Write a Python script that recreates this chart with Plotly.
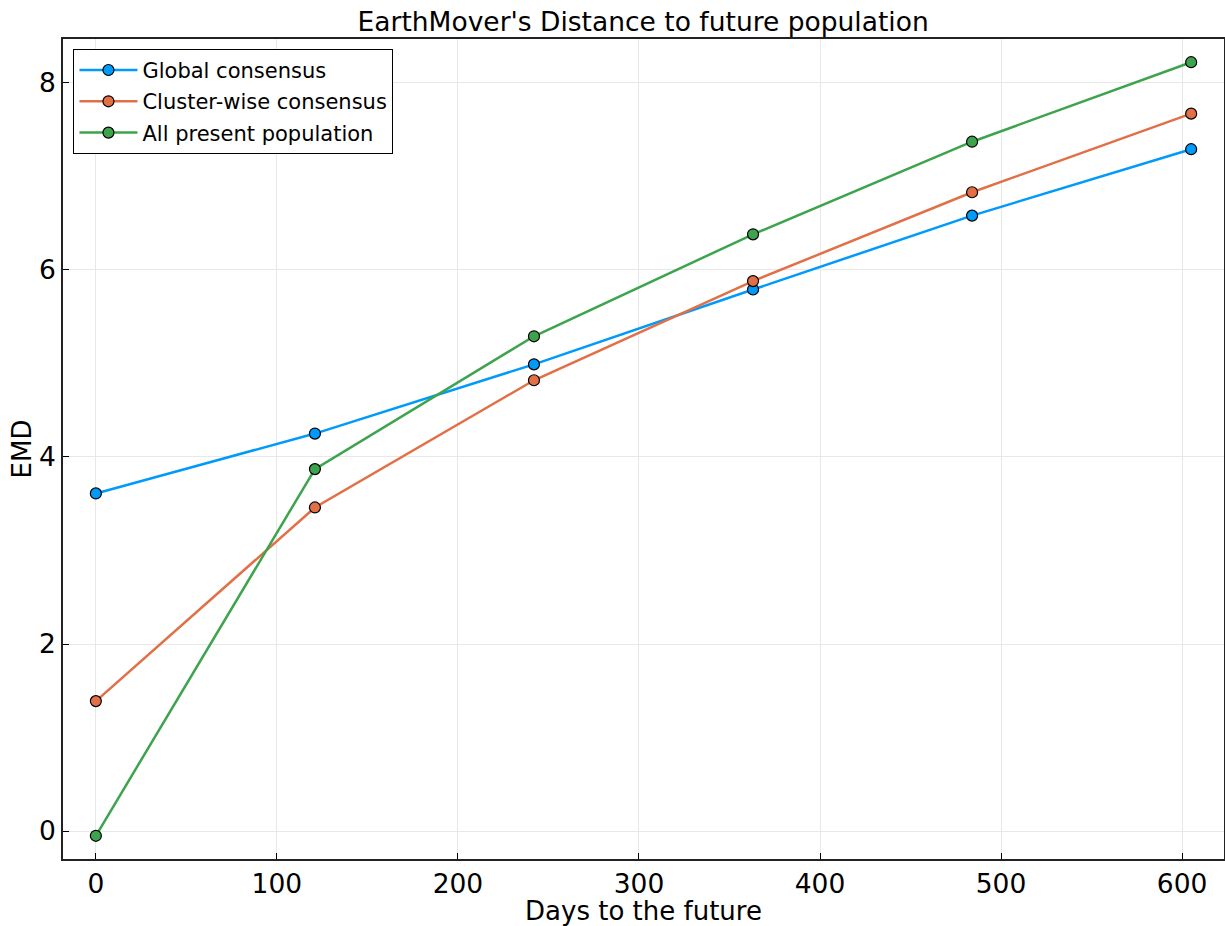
import plotly.graph_objects as go

# Forecast horizons (days) and EMD values per method
days = [0, 121, 242, 363, 484, 605]
global_consensus = [3.61, 4.25, 4.99, 5.79, 6.58, 7.29]
cluster_consensus = [1.39, 3.46, 4.82, 5.88, 6.83, 7.67]
all_present = [-0.05, 3.87, 5.29, 6.38, 7.37, 8.22]

series_names = ["Global consensus", "Cluster-wise consensus", "All present population"]
series_values = [global_consensus, cluster_consensus, all_present]
series_colors = ["#009AFA", "#E26F46", "#3DA44D"]

FONT = "DejaVu Sans"

fig = go.Figure()
for i, (name, vals, col) in enumerate(zip(series_names, series_values, series_colors)):
    fig.add_trace(go.Scatter(
        x=days, y=vals, name=name, mode="lines+markers",
        legendgroup=f"g{i}",
        line=dict(color=col, width=2.5),
        marker=dict(color=col, size=11, line=dict(color="black", width=1.2)),
    ))

# 3% padding around data extents on both axes
all_y = global_consensus + cluster_consensus + all_present
xpad = 0.03 * (max(days) - min(days))
ypad = 0.03 * (max(all_y) - min(all_y))

fig.update_layout(
    width=1225, height=926,
    margin=dict(l=63, r=1, t=39, b=67),
    paper_bgcolor="white", plot_bgcolor="white",
    font=dict(family=FONT, color="black"),
    title=dict(text="EarthMover's Distance to future population",
               x=0.525, xanchor="center", y=0.976, yanchor="middle",
               font=dict(size=26.5, family=FONT)),
    showlegend=True,
    legend=dict(x=0.009, y=0.988, xanchor="left", yanchor="top",
                bgcolor="white", bordercolor="black", borderwidth=1,
                font=dict(size=21, family=FONT), itemwidth=58,
                tracegroupgap=1),
    xaxis=dict(
        range=[min(days) - xpad, max(days) + xpad],
        tickvals=[0, 100, 200, 300, 400, 500, 600],
        ticks="inside", ticklen=6, tickcolor="black",
        tickfont=dict(size=26.5, family=FONT),
        showgrid=True, gridcolor="#e8e8e8", gridwidth=1,
        showline=True, linecolor="#222222", linewidth=1.5, mirror=True,
        zeroline=False, automargin=False,
        title=dict(text="Days to the future", font=dict(size=26, family=FONT), standoff=10),
    ),
    yaxis=dict(
        range=[min(all_y) - ypad, max(all_y) + ypad],
        tickvals=[0, 2, 4, 6, 8],
        ticks="inside", ticklen=6, tickcolor="black",
        tickfont=dict(size=26.5, family=FONT),
        showgrid=True, gridcolor="#e8e8e8", gridwidth=1,
        showline=True, linecolor="#222222", linewidth=1.5, mirror=True,
        zeroline=False, automargin=False,
        title=dict(text="EMD", font=dict(size=26, family=FONT), standoff=0),
    ),
)

fig.write_html("out.html")
